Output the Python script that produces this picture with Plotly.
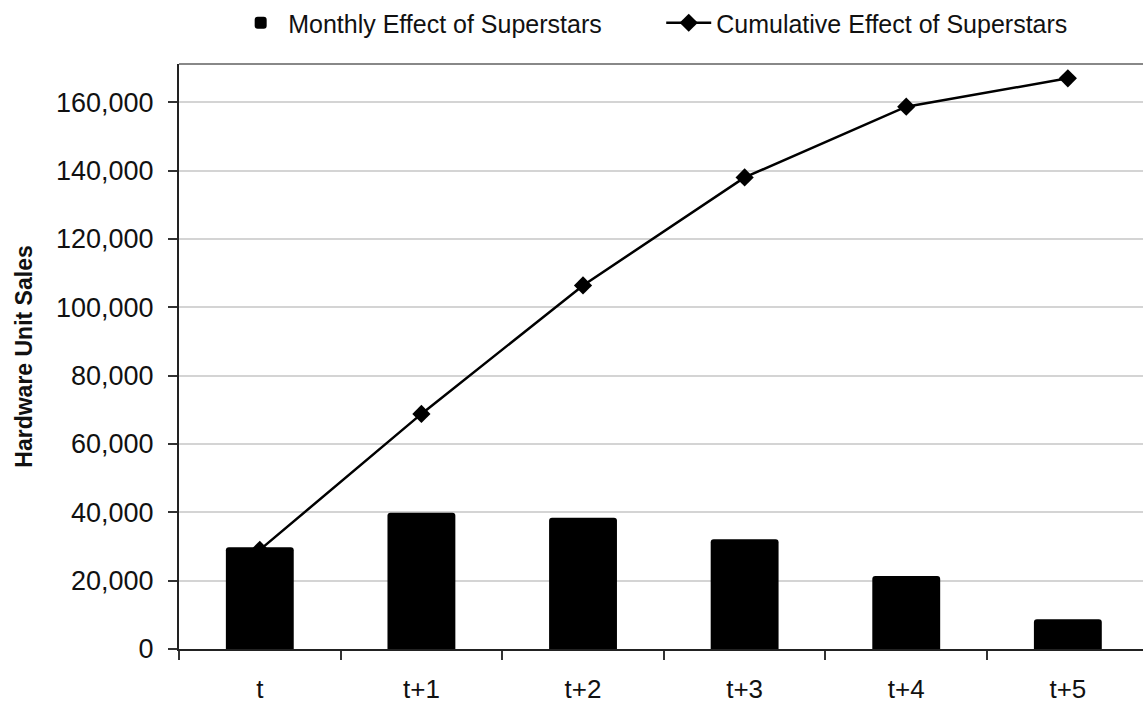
import plotly.graph_objects as go

periods = ["t", "t+1", "t+2", "t+3", "t+4", "t+5"]
monthly_effect = [29800, 39900, 38400, 32100, 21400, 8700]
cumulative_effect = [29000, 68800, 106400, 138000, 158700, 167000]
y_ticks = [0, 20000, 40000, 60000, 80000, 100000, 120000, 140000, 160000]
y_tick_labels = ["0", "20,000", "40,000", "60,000", "80,000", "100,000", "120,000", "140,000", "160,000"]

FONT = "Liberation Sans, Arial, sans-serif"

fig = go.Figure()
fig.add_trace(go.Bar(
    x=periods, y=monthly_effect, name="Monthly Effect of Superstars",
    marker=dict(color="#000000", cornerradius=3, line=dict(width=0)),
    width=0.42, legend="legend",
))
fig.add_trace(go.Scatter(
    x=periods, y=cumulative_effect, name="Cumulative Effect of Superstars",
    mode="lines+markers",
    line=dict(color="#000000", width=2.5),
    marker=dict(symbol="diamond", size=14, color="#000000"),
    legend="legend2",
))

legend_common = dict(
    orientation="h", xanchor="left",
    xref="container", yref="container", y=1.0, yanchor="top",
    font=dict(size=25, family=FONT, color="#111111"),
    itemwidth=45, bgcolor="rgba(0,0,0,0)",
)

fig.update_layout(
    width=1143, height=708,
    margin=dict(l=179, r=0, t=64, b=59),
    paper_bgcolor="white", plot_bgcolor="white",
    font=dict(family=FONT, color="#111111", size=24),
    showlegend=True,
    legend=dict(x=0.204, **legend_common),
    legend2=dict(x=0.5785, **legend_common),
    bargap=0.58,
    shapes=[dict(type="line", xref="paper", yref="paper", x0=0, x1=1, y0=1, y1=1,
                 line=dict(color="#888888", width=2))],
)

fig.update_xaxes(
    type="category", range=[-0.5, 5.465],
    showline=True, linecolor="#222222", linewidth=2,
    ticks="outside", tickson="boundaries", ticklen=9, tickcolor="#333333", tickwidth=1.5,
    tickfont=dict(size=26, family=FONT, color="#111111"),
    ticklabelstandoff=16,
    showgrid=False, zeroline=False,
)
fig.update_yaxes(
    range=[0, 171200],
    tickvals=y_ticks, ticktext=y_tick_labels,
    showline=True, linecolor="#222222", linewidth=2,
    ticks="outside", ticklen=9, tickcolor="#333333", tickwidth=1.5,
    tickfont=dict(size=27, family=FONT, color="#111111"),
    ticklabelstandoff=9,
    showgrid=True, gridcolor="#d4d4d4", gridwidth=1.5,
    zeroline=False,
    title=dict(text="<b>Hardware Unit Sales</b>", font=dict(size=23, family=FONT, color="#111111"),
               standoff=17),
)

fig.write_html("out.html")
